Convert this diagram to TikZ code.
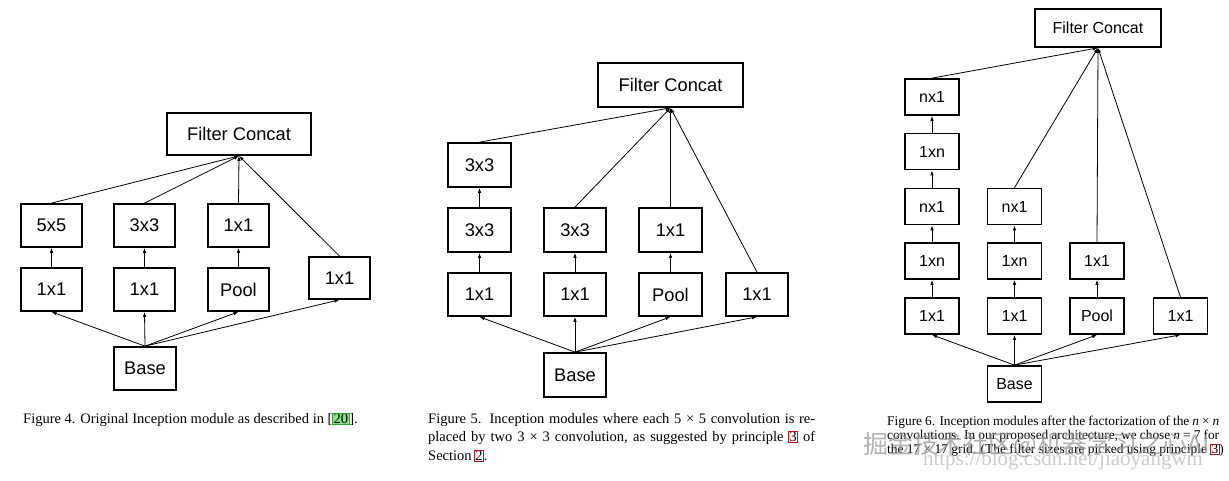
\documentclass[tikz,border=0pt]{standalone}
\usepackage{fontspec}
\setmainfont{Liberation Serif}
\newfontfamily\boxfont{Liberation Sans}
\newfontfamily\markfont{Noto Sans CJK SC}
\usetikzlibrary{arrows.meta}
\definecolor{refGreen}{RGB}{40,170,40}
\definecolor{refGreenFill}{RGB}{140,225,130}
\definecolor{refRed}{RGB}{185,20,30}
\newcommand{\greenref}[1]{{\setlength{\fboxsep}{0.4pt}\setlength{\fboxrule}{0.8pt}\fcolorbox{refGreen}{refGreenFill}{#1}}}
\newcommand{\redref}[1]{{\setlength{\fboxsep}{0.4pt}\setlength{\fboxrule}{0.8pt}\fcolorbox{refRed}{white}{#1}}}
\tikzset{
  blk/.style={draw, line width=1.7pt, inner sep=0pt, minimum width=61pt, minimum height=43pt,
    font=\boxfont\fontsize{18.3}{21}\selectfont},
  blksmall/.style={blk, minimum width=54pt, minimum height=36pt,
    font=\boxfont\fontsize{16}{18}\selectfont},
  con/.style={line width=0.8pt, -{Latex[length=5pt,width=3.5pt]}},
  captxt/.style={anchor=west, inner sep=0pt, font=\fontsize{14.5}{16}\selectfont},
  captxtsmall/.style={captxt, font=\fontsize{13.4}{15}\selectfont}
}
\begin{document}
\begin{tikzpicture}[x=1pt,y=1pt]
\path[use as bounding box,fill=white] (0,0) rectangle (1229,480);

% Figure 4
\node[blk, minimum width=144pt, minimum height=42pt] (fcA) at (239,346) {Filter Concat};
\node[blk] (a55) at ( 51.5,254.5) {5x5};
\node[blk] (a33) at (144.5,254.5) {3x3};
\node[blk] (a11) at (238.5,254.5) {1x1};
\node[blk] (b11) at ( 51.5,190.5) {1x1};
\node[blk] (b12) at (144.5,190.5) {1x1};
\node[blk] (bpl) at (238.5,190.5) {Pool};
\node[blk, minimum height=42pt] (b14) at (339.5,202) {1x1};
\node[blk, minimum width=62pt] (baseA) at (145,111.5) {Base};
\foreach \s/\t in {b11/a55,b12/a33,bpl/a11}
  \draw[con] (\s.north) -- (\t.south);
\foreach \s in {a55,a33,a11,b14}
  \draw[con] (\s.north) -- (fcA.south);
\foreach \t in {b11,b12,bpl,b14}
  \draw[con] (baseA.north) -- (\t.south);
\node[captxt] (capA) at (23,60) {Figure 4. Original Inception module as described in [\greenref{20}].};

% Figure 5
\node[blk, minimum width=145pt, minimum height=44pt] (fcB) at (670.5,395) {Filter Concat};
\node[blk, minimum width=63pt, minimum height=44pt] (c33) at (479.5,315) {3x3};
\node[blk, minimum width=63pt, minimum height=44pt] (d33) at (479.5,250) {3x3};
\node[blk, minimum width=62pt, minimum height=44pt] (d34) at (575,250) {3x3};
\node[blk, minimum width=63pt, minimum height=44pt] (d11) at (670.5,250) {1x1};
\node[blk, minimum width=63pt, minimum height=43pt] (e11) at (479.5,185.5) {1x1};
\node[blk, minimum width=62pt, minimum height=43pt] (e12) at (575,185.5) {1x1};
\node[blk, minimum width=63pt, minimum height=43pt] (epl) at (670.5,185.5) {Pool};
\node[blk, minimum width=62pt, minimum height=43pt] (e14) at (757,185.5) {1x1};
\node[blk, minimum width=62pt, minimum height=44pt] (baseB) at (575,105) {Base};
\foreach \s/\t in {d33/c33,e11/d33,e12/d34,epl/d11}
  \draw[con] (\s.north) -- (\t.south);
\foreach \s in {c33,d34,d11,e14}
  \draw[con] (\s.north) -- (fcB.south);
\foreach \t in {e11,e12,epl,e14}
  \draw[con] (baseB.north) -- (\t.south);
\node[captxt] (capB1) at (428,60) {\makebox[387pt][s]{Figure 5. Inception modules where each 5 × 5 convolution is re-}};
\node[captxt] (capB2) at (428,42) {\makebox[387pt][s]{placed by two 3 × 3 convolution, as suggested by principle \redref{3} of}};
\node[captxt] (capB3) at (428,24) {Section\,\redref{2}.};

% Figure 6
\node[blksmall, minimum width=126pt, minimum height=38pt] (fcC) at (1098,452) {Filter Concat};
\node[blksmall] (f1) at (932,383) {nx1};
\node[blksmall] (g1) at (932,328.5) {1xn};
\node[blksmall] (h1) at (932,273.5) {nx1};
\node[blksmall] (h2) at (1014.5,273.5) {nx1};
\node[blksmall] (i1) at (932,219) {1xn};
\node[blksmall] (i2) at (1014.5,219) {1xn};
\node[blksmall] (i3) at (1097,219) {1x1};
\node[blksmall] (j1) at (932,164) {1x1};
\node[blksmall] (j2) at (1014.5,164) {1x1};
\node[blksmall] (jpl) at (1097,164) {Pool};
\node[blksmall] (j4) at (1180.5,164) {1x1};
\node[blksmall] (baseC) at (1014.5,96) {Base};
\foreach \s/\t in {g1/f1,h1/g1,i1/h1,j1/i1,i2/h2,j2/i2,jpl/i3}
  \draw[con] (\s.north) -- (\t.south);
\foreach \s in {f1,h2,i3,j4}
  \draw[con] (\s.north) -- (fcC.south);
\foreach \t in {j1,j2,jpl,j4}
  \draw[con] (baseC.north) -- (\t.south);
\node[captxtsmall] (capC1) at (887,58) {\makebox[332pt][s]{Figure 6. Inception modules after the factorization of the \textit{n} × \textit{n}}};
\node[captxtsmall] (capC2) at (887,44) {\makebox[332pt][s]{convolutions. In our proposed architecture, we chose \textit{n} = 7 for}};
\node[captxtsmall] (capC3) at (887,30) {the 17 × 17 grid. (The filter sizes are picked using principle \redref{3})};
\node[anchor=center, inner sep=0pt, text=gray!40, font=\fontsize{21}{23}\selectfont] (url) at (1063,20) {https://blog.csdn.net/jiaoyangwm};
\node[anchor=center, inner sep=0pt, text=gray!80, opacity=0.75, font=\markfont\fontsize{25}{27}\selectfont] (wmark) at (1037,35) {掘金技术社区@机器学习之心AI};
\end{tikzpicture}
\end{document}
